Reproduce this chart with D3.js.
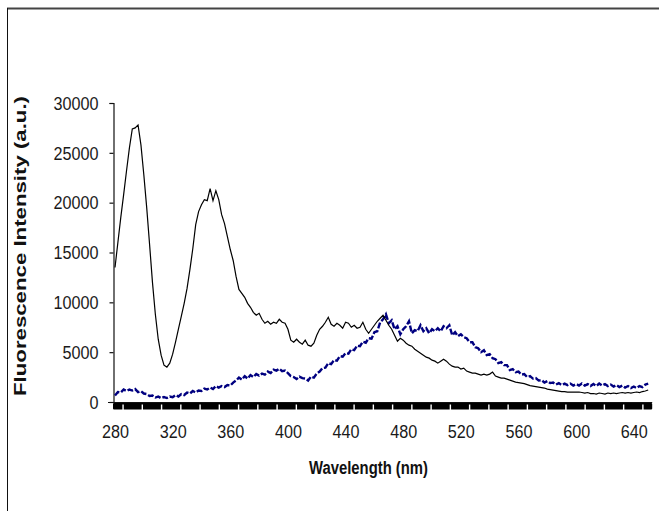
<!DOCTYPE html>
<html>
<head>
<meta charset="utf-8">
<script src="https://cdn.jsdelivr.net/npm/d3@7"></script>
<style>
  html, body { margin: 0; padding: 0; background: #fff; }
  svg { display: block; }
  .tick-label { font-family: "Liberation Sans", Arial, sans-serif; font-size: 18px; fill: #1a1a1a; }
  .axis-title { font-family: "Liberation Sans", Arial, sans-serif; font-weight: bold; font-size: 18px; fill: #111; }
  .y-title { font-family: "Liberation Sans", Arial, sans-serif; font-weight: bold; font-size: 17px; fill: #111; }
</style>
</head>
<body>
<svg id="chart" width="659" height="511"></svg>
<script>
// Wavelength grid (nm), sampled every 2 nm
const wavelengths = d3.range(280, 651, 2);

// Black trace: fluorescence intensity (a.u.)
const blackSeries = [
  13500, 16000, 18500, 20800, 23200, 25500, 27400, 27500, 27800, 25800,
  22800, 19500, 15800, 12000, 8800, 6300, 4700, 3700, 3500, 3900,
  4800, 6000, 7300, 8600, 9900, 11400, 13300, 15400, 17800, 19100,
  19800, 20300, 20200, 21400, 20200, 21200, 20300, 18800, 17900, 16600,
  15300, 14200, 12600, 11300, 10900, 10500, 9900, 9500, 9000, 8700,
  8900, 8300, 7900, 8100, 7800, 8000, 7900, 8300, 8000, 7900,
  7300, 6200, 6000, 6300, 6000, 5800, 6200, 5700, 5600, 5900,
  6700, 7300, 7600, 8000, 8500, 7800, 7600, 7900, 7700, 7400,
  8000, 7900, 7500, 7700, 7400, 7500, 8000, 7300, 6900, 7300,
  7700, 8100, 8400, 8700, 8200, 7700, 7300, 6700, 6100, 6400,
  6200, 5900, 5700, 5600, 5300, 5100, 4900, 4700, 4500, 4400,
  4200, 4100, 3900, 4100, 4300, 4100, 3800, 3600, 3500, 3500,
  3300, 3400, 3100, 3000, 2900, 2900, 2800, 2700, 2800, 2700,
  2800, 3000, 2600, 2500, 2400, 2400, 2300, 2200, 2100, 2000,
  1950, 1900, 1850, 1750, 1650, 1600, 1550, 1500, 1450, 1400,
  1300, 1250, 1200, 1150, 1100, 1050, 1050, 1000, 1000, 1000,
  1000, 1000, 950, 900, 950, 850, 850, 800, 900, 850,
  800, 900, 850, 900, 850, 900, 950, 900, 950, 900,
  950, 1000, 950, 1050, 1100, 1200
];

// Blue trace: fluorescence intensity (a.u.)
const blueSeries = [
  650, 1000, 950, 1250, 1100, 1250, 1150, 1300, 1000, 1100,
  850, 800, 600, 650, 450, 550, 380, 500, 400, 550,
  480, 700, 550, 800, 700, 950, 850, 1100, 950, 1150,
  1100, 1350, 1250, 1450, 1300, 1600, 1450, 1600, 1500, 1700,
  1650, 1950, 2150, 2450, 2250, 2600, 2350, 2700, 2500, 2800,
  2650, 2850, 2750, 3050, 2900, 3250, 3150, 3350, 3100, 3150,
  2900, 2600, 2500, 2300, 2550, 2400, 2350, 2150, 2550, 2450,
  2850, 3050, 3400, 3450, 3900, 3800, 4200, 4150, 4600, 4550,
  4900, 4850, 5300, 5200, 5650, 5600, 6050, 5950, 6400, 6350,
  7000, 7100, 8000, 8300, 8800, 7900, 8200, 7300, 7600, 6800,
  7300, 7600, 8100, 6900, 7200, 7100, 7700, 7100, 7400, 6900,
  7300, 7100, 7400, 7100, 7600, 7400, 7700, 6700, 7000, 6600,
  6800, 6500, 6400, 6000, 6000, 5500, 5400, 5000, 5200, 4700,
  4800, 4400, 4300, 3900, 4000, 3700, 3700, 3200, 3300, 3000,
  3050, 2750, 2800, 2500, 2600, 2350, 2400, 2150, 2200, 1950,
  2100, 1900, 1950, 1750, 1900, 1700, 1850, 1700, 1850, 1650,
  1800, 1650, 1850, 1650, 1800, 1600, 1800, 1600, 1850, 1650,
  1800, 1600, 1750, 1550, 1700, 1500, 1650, 1450, 1600, 1400,
  1550, 1400, 1600, 1500, 1750, 1850
];

// Axis tick values
const xTickValues = [280, 320, 360, 400, 440, 480, 520, 560, 600, 640];
const yTickValues = [0, 5000, 10000, 15000, 20000, 25000, 30000];

const svg = d3.select("#chart");

// Outer frame
svg.append("line").attr("x1", 7).attr("y1", 8.5).attr("x2", 659).attr("y2", 8.5)
  .attr("stroke", "#444").attr("stroke-width", 2);
svg.append("line").attr("x1", 7.5).attr("y1", 8).attr("x2", 7.5).attr("y2", 511)
  .attr("stroke", "#111").attr("stroke-width", 1);

const x = d3.scaleLinear().domain([280, 650]).range([115, 648.2]);
const y = d3.scaleLinear().domain([0, 30000]).range([402, 103]);

// Condensed digit width for tick labels
const digitWidth = 9;

// Y axis
const yAxis = d3.axisLeft(y).tickValues(yTickValues).tickSize(4).tickFormat(d3.format("d"));
const gy = svg.append("g").attr("transform", "translate(113.5,0)").call(yAxis);
gy.select(".domain").attr("stroke", "#111").attr("stroke-width", 1.2);
gy.selectAll(".tick line").attr("stroke", "#111").attr("stroke-width", 1.2);
gy.selectAll(".tick text").attr("class", "tick-label").attr("x", -15).attr("dy", "0.35em")
  .attr("textLength", d => String(d).length * digitWidth).attr("lengthAdjust", "spacingAndGlyphs");

// X axis: dense tick band along the baseline
const bandLeft = 113, bandRight = x(650) + 4;
svg.append("line").attr("x1", 108).attr("x2", bandRight).attr("y1", 402.5).attr("y2", 402.5)
  .attr("stroke", "#111").attr("stroke-width", 1.2);
svg.append("rect").attr("x", bandLeft).attr("y", 403).attr("width", bandRight - bandLeft).attr("height", 6.5)
  .attr("rx", 1).attr("fill", "#000");
const gapTicks = d3.range(285.6, 650, 13.36);
svg.append("g").selectAll("line").data(gapTicks).join("line")
  .attr("x1", d => x(d)).attr("x2", d => x(d))
  .attr("y1", 404.5).attr("y2", 410)
  .attr("stroke", "#fff").attr("stroke-width", 1.4);

const xAxis = d3.axisBottom(x).tickValues(xTickValues).tickSize(0).tickFormat(d3.format("d"));
const gx = svg.append("g").attr("transform", "translate(0,410)").call(xAxis);
gx.select(".domain").remove();
gx.selectAll(".tick text").attr("class", "tick-label").attr("y", 15).attr("dy", "0.71em")
  .attr("textLength", d => String(d).length * digitWidth).attr("lengthAdjust", "spacingAndGlyphs");

// Axis titles
svg.append("text").attr("class", "axis-title")
  .attr("x", 368.5).attr("y", 474).attr("text-anchor", "middle")
  .attr("textLength", 119).attr("lengthAdjust", "spacingAndGlyphs")
  .text("Wavelength (nm)");
svg.append("text").attr("class", "y-title")
  .attr("transform", "translate(26,246) rotate(-90)")
  .attr("text-anchor", "middle")
  .attr("textLength", 300).attr("lengthAdjust", "spacingAndGlyphs")
  .text("Fluorescence Intensity (a.u.)");

// Traces
const line = d3.line().x(d => x(d[0])).y(d => y(d[1]));

svg.append("path")
  .datum(wavelengths.map((w, i) => [w, blueSeries[i]]))
  .attr("d", line)
  .attr("fill", "none")
  .attr("stroke", "#000080")
  .attr("stroke-width", 2.4)
  .attr("stroke-dasharray", "6,2");

svg.append("path")
  .datum(wavelengths.map((w, i) => [w, blackSeries[i]]))
  .attr("d", line)
  .attr("fill", "none")
  .attr("stroke", "#000")
  .attr("stroke-width", 1.2);
</script>
</body>
</html>
